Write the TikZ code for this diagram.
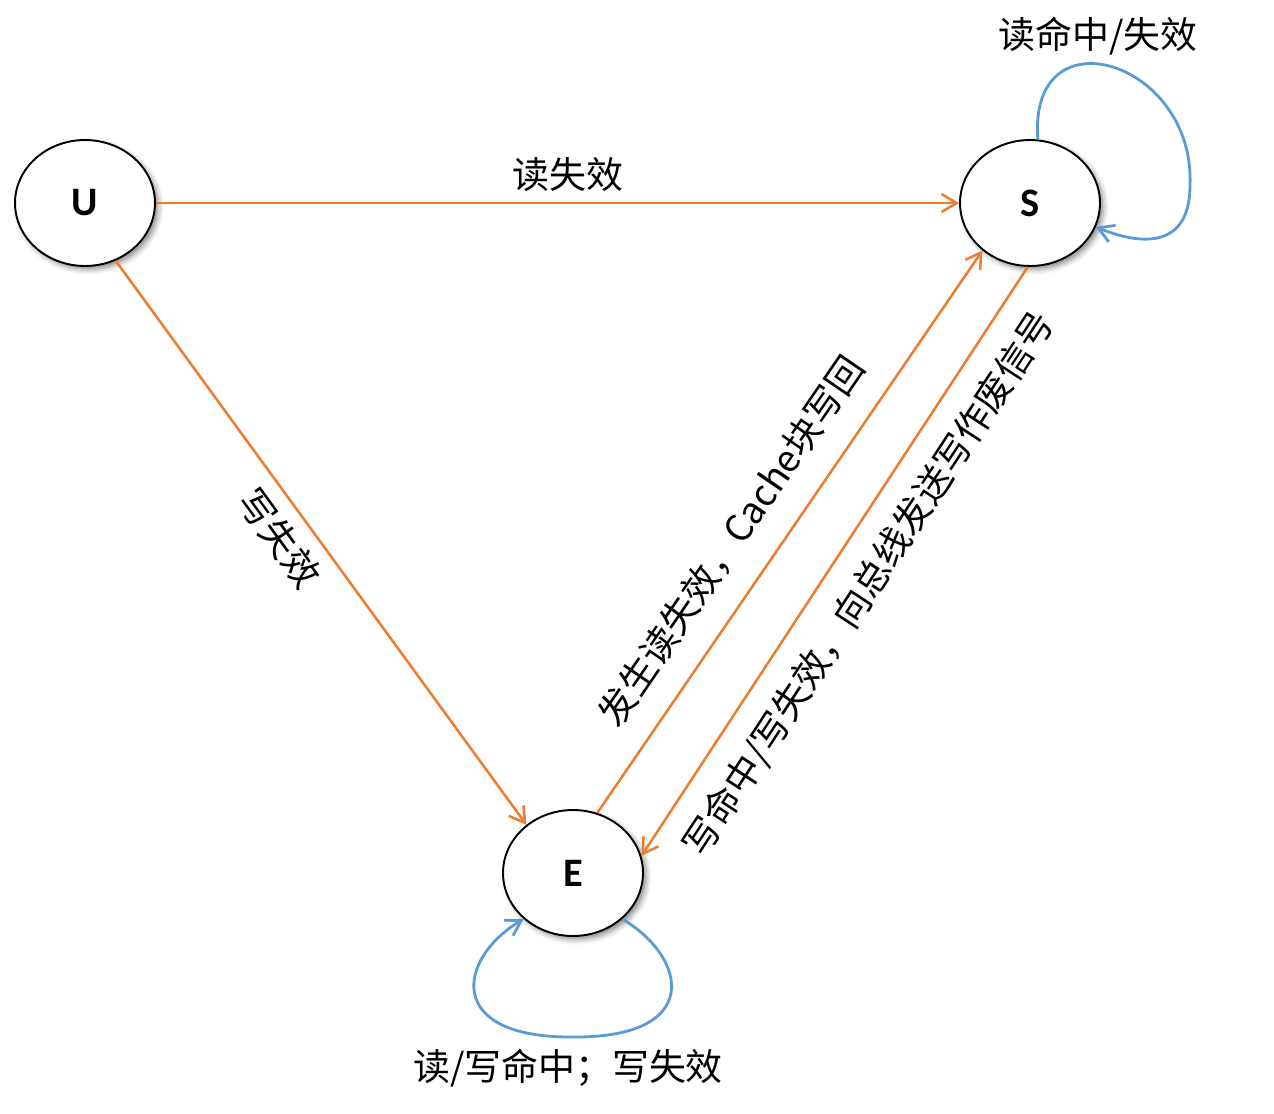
\documentclass[tikz,border=0pt]{standalone}
\usepackage{fontspec}
\setmainfont{Noto Sans CJK SC}
\newfontfamily\statefont{Carlito}
\usetikzlibrary{shapes.geometric, arrows.meta, shadows.blur}
\definecolor{edgeorange}{HTML}{ED7D31}
\definecolor{loopblue}{HTML}{5B9BD5}

\begin{document}
\begin{tikzpicture}[x=0.02cm, y=-0.02cm,
    state/.style={ellipse, draw=black, line width=1.1pt, fill=white,
        minimum width=2.8cm, minimum height=2.52cm,
        font=\statefont\bfseries\fontsize{23}{27}\selectfont,
        blur shadow={shadow xshift=2pt, shadow yshift=-2pt, shadow blur radius=3pt, shadow opacity=45}},
    trans/.style={draw=edgeorange, line width=1.45pt, -{Straight Barb[length=3mm, width=3.6mm]}},
    selfloop/.style={draw=loopblue, line width=1.6pt, -{Straight Barb[length=3mm, width=3.6mm]}},
    lbl/.style={font=\fontsize{21}{25}\selectfont, inner sep=2pt}]
        \useasboundingbox (0,0) rectangle (1274,1113);

        % States
        \node[state] (U) at (85,203) {U};
        \node[state] (S) at (1030,203) {S};
        \node[state] (E) at (573,873) {E};

        % U -> S and U -> E
        \draw[trans] (U.east) -- (S.west) node[lbl, pos=0.513, above=4pt] {读失效};
        \draw[trans] (U.-62) -- (E.134) node[lbl, pos=0.46, sloped, below=5pt] {写失效};

        % Between E and S
        \draw[trans] (E.68) -- (S.-135) node[lbl, pos=0.44, sloped, above=12pt] {发生读失效，Cache块写回};
        \draw[trans] (S.-92) -- (E.14) node[lbl, pos=0.5, sloped, below=10pt] {写命中/写失效，向总线发送写作废信号};

        % Self loops
        \draw[selfloop] (S.83) .. controls (1028,10) and (1195,60) .. (1190,185)
            .. controls (1190,250) and (1140,245) .. (S.-20);
        \node[lbl] (loopS) at (1098,36) {读命中/失效};

        \draw[selfloop] (E.-43) .. controls (688,958) and (703,1038) .. (573,1037)
            .. controls (443,1038) and (458,958) .. (E.-137);
        \node[lbl] (loopE) at (568,1068) {读/写命中；写失效};

    \end{tikzpicture}
\end{document}
